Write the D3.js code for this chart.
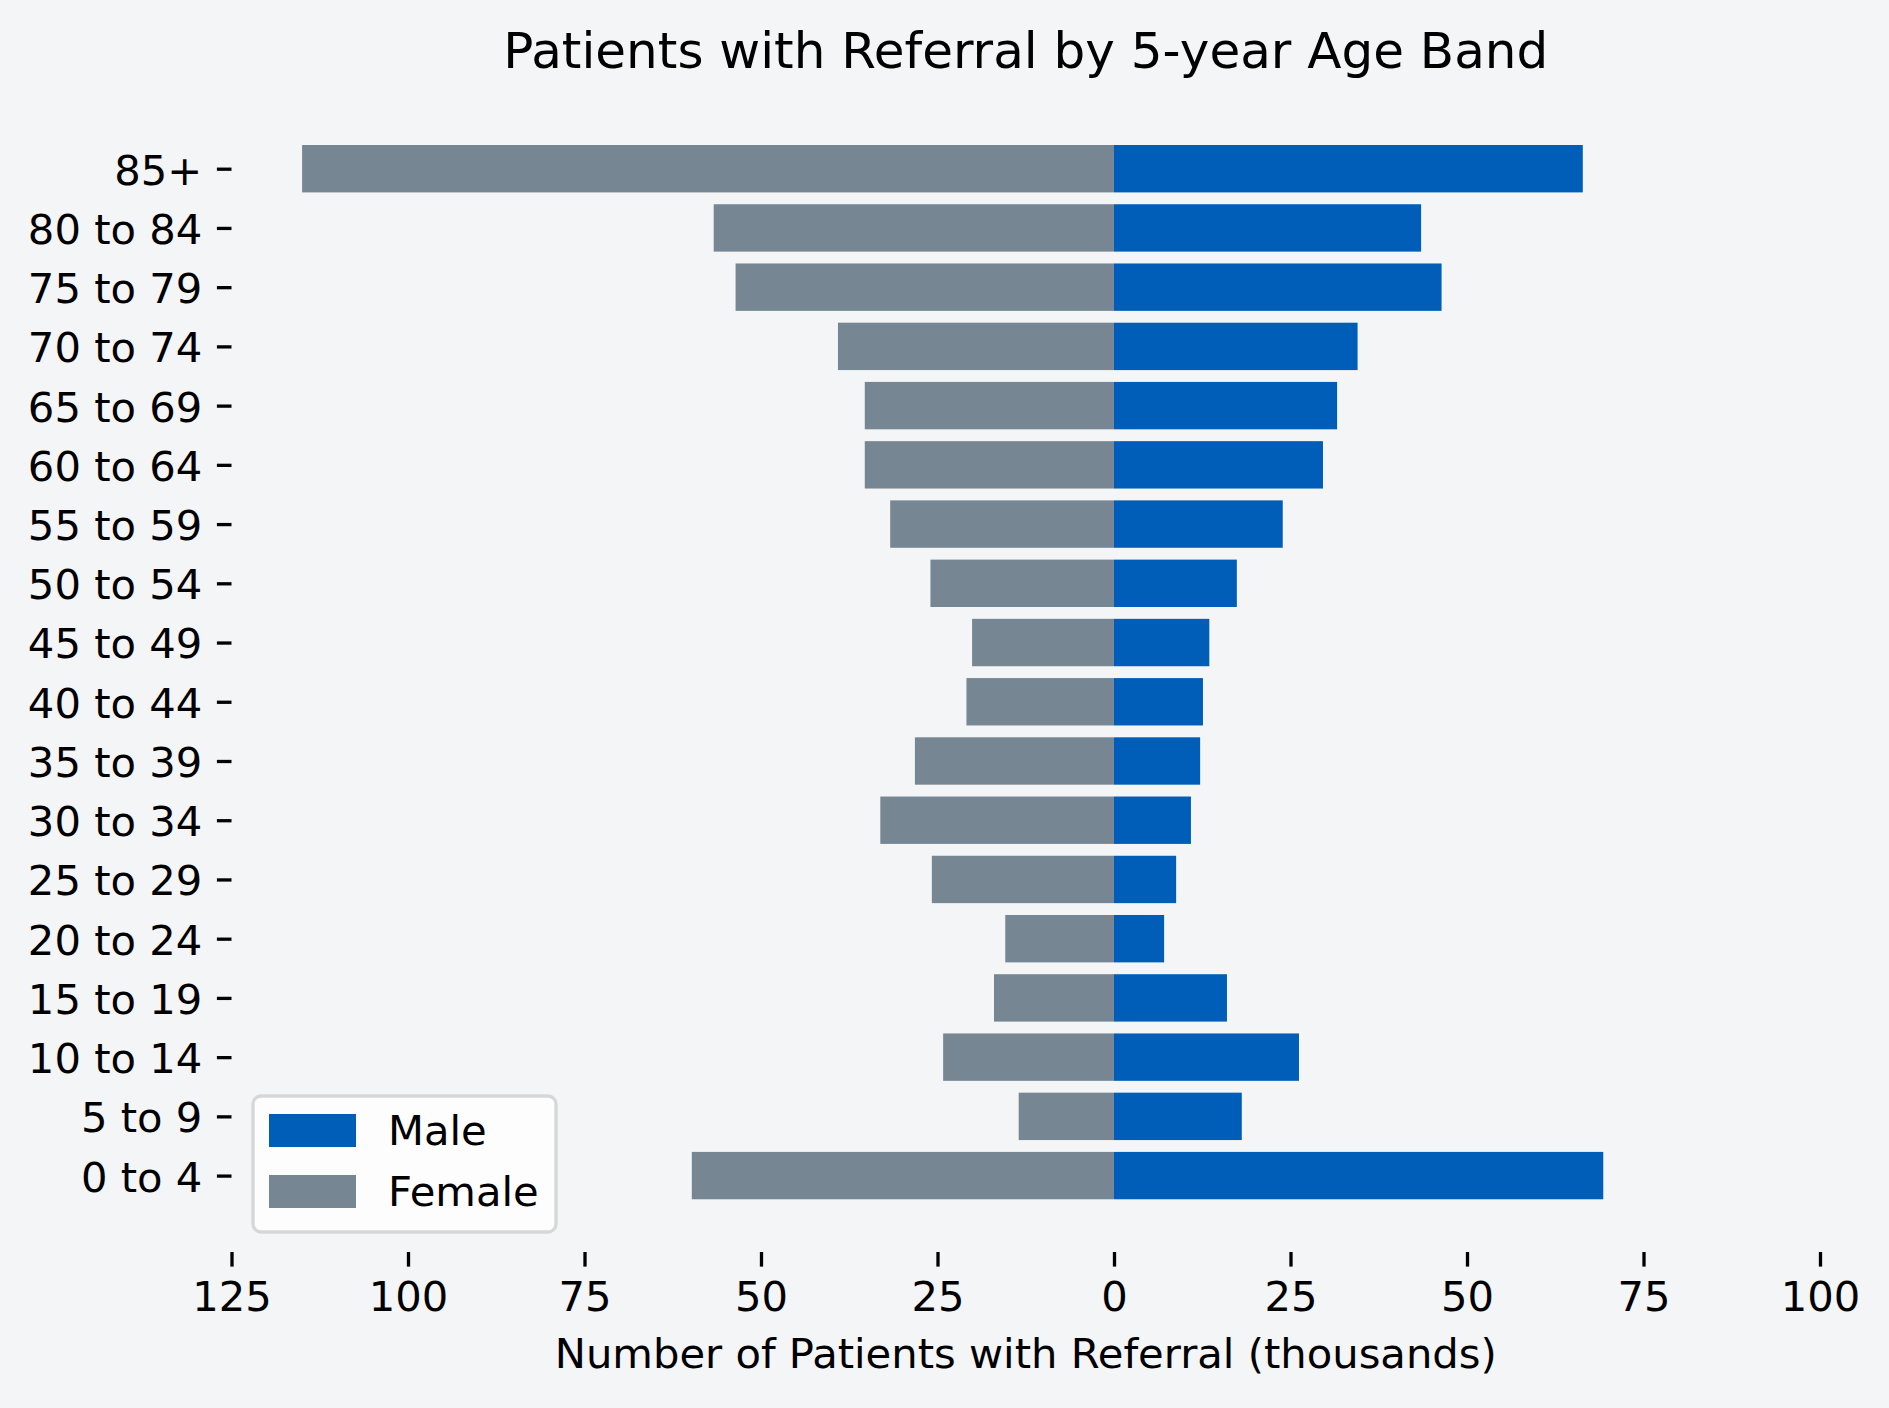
<!DOCTYPE html>
<html>
<head>
<meta charset="utf-8">
<script src="https://cdn.jsdelivr.net/npm/d3@7"></script>
<style>
  body { margin: 0; background: #f4f5f7; }
  svg { display: block; font-family: "DejaVu Sans", sans-serif; }
</style>
</head>
<body>
<div id="main"></div>
<script>
// Age bands, bottom to top
const ageBands = ['0 to 4', '5 to 9', '10 to 14', '15 to 19', '20 to 24', '25 to 29',
  '30 to 34', '35 to 39', '40 to 44', '45 to 49', '50 to 54', '55 to 59',
  '60 to 64', '65 to 69', '70 to 74', '75 to 79', '80 to 84', '85+'];

// Patients with referral, thousands
const male = [69.3, 18.1, 26.2, 16.0, 7.1, 8.8, 10.9, 12.2, 12.6, 13.5,
  17.4, 23.9, 29.6, 31.6, 34.5, 46.4, 43.5, 66.4];
const female = [59.8, 13.5, 24.2, 17.0, 15.4, 25.8, 33.1, 28.2, 20.9, 20.1,
  26.0, 31.7, 35.3, 35.3, 39.1, 53.6, 56.7, 115.0];

const xTicks = [-125, -100, -75, -50, -25, 0, 25, 50, 75, 100];
const seriesNames = ['Male', 'Female'];
const seriesColors = ['#005eb8', '#768692'];

const width = 1889;
const height = 1408;
const plot = { left: 231.5, right: 1820, top: 92.3, bottom: 1252 };
const font = '"DejaVu Sans", sans-serif';

const svg = d3.select('div#main')
  .append('svg')
  .attr('width', width)
  .attr('height', height);

svg.append('rect')
  .attr('width', width)
  .attr('height', height)
  .attr('fill', '#f4f5f7');

// Scales (y mimics matplotlib's 5% margins around 0.8 wide bars)
const n = ageBands.length;
const span = (n - 1) + 0.8;
const x = d3.scaleLinear().domain([-125, 100]).range([plot.left, plot.right]);
const y = d3.scaleLinear()
  .domain([-0.4 - 0.05 * span, n - 1 + 0.4 + 0.05 * span])
  .range([plot.bottom, plot.top]);
const barH = y(0) - y(0.8);

// Female bars (negative side)
svg.append('g')
  .selectAll('rect')
  .data(female)
  .join('rect')
  .attr('x', d => x(-d))
  .attr('y', (d, i) => y(i + 0.4))
  .attr('width', d => x(0) - x(-d))
  .attr('height', barH)
  .attr('fill', seriesColors[1]);

// Male bars
svg.append('g')
  .selectAll('rect')
  .data(male)
  .join('rect')
  .attr('x', x(0))
  .attr('y', (d, i) => y(i + 0.4))
  .attr('width', d => x(d) - x(0))
  .attr('height', barH)
  .attr('fill', seriesColors[0]);

// X axis
const xAxis = svg.append('g')
  .attr('transform', `translate(0,${plot.bottom})`)
  .call(d3.axisBottom(x)
    .tickValues(xTicks)
    .tickFormat(d => Math.abs(d))
    .tickSize(14.6)
    .tickPadding(14.6));
xAxis.attr('font-family', font).attr('font-size', 41.7);
xAxis.select('.domain').remove();
xAxis.selectAll('line').attr('stroke', '#000').attr('stroke-width', 3.3);
xAxis.selectAll('text').attr('fill', '#000');

// Y axis
const yAxis = svg.append('g')
  .attr('transform', `translate(${plot.left},0)`)
  .call(d3.axisLeft(y)
    .tickValues(d3.range(n))
    .tickFormat(i => ageBands[i])
    .tickSize(14.6)
    .tickPadding(14.6));
yAxis.attr('font-family', font).attr('font-size', 41.7);
yAxis.select('.domain').remove();
yAxis.selectAll('line').attr('stroke', '#000').attr('stroke-width', 3.3);
yAxis.selectAll('text').attr('fill', '#000').attr('dy', '0.37em');

// Title
svg.append('text')
  .attr('x', (plot.left + plot.right) / 2)
  .attr('y', 68)
  .attr('text-anchor', 'middle')
  .attr('font-family', font)
  .attr('font-size', 50)
  .attr('fill', '#000')
  .text('Patients with Referral by 5-year Age Band');

// X label
svg.append('text')
  .attr('x', (plot.left + plot.right) / 2)
  .attr('y', 1368)
  .attr('text-anchor', 'middle')
  .attr('font-family', font)
  .attr('font-size', 41.7)
  .attr('fill', '#000')
  .text('Number of Patients with Referral (thousands)');

// Legend
const legend = svg.append('g').attr('transform', 'translate(253,1096)');
legend.append('rect')
  .attr('width', 303)
  .attr('height', 136)
  .attr('rx', 8)
  .attr('fill', '#fdfdfd')
  .attr('stroke', '#d6d7d8')
  .attr('stroke-width', 3.3);

legend.selectAll('g.item')
  .data(seriesNames)
  .join('g')
  .attr('class', 'item')
  .attr('transform', (d, i) => `translate(16,${18 + i * 61})`)
  .each(function (d, i) {
    const g = d3.select(this);
    g.append('rect')
      .attr('width', 87)
      .attr('height', 33)
      .attr('fill', seriesColors[i]);
    g.append('text')
      .attr('x', 119)
      .attr('y', 31)
      .attr('font-family', font)
      .attr('font-size', 41.7)
      .attr('fill', '#000')
      .text(d);
  });
</script>
</body>
</html>
